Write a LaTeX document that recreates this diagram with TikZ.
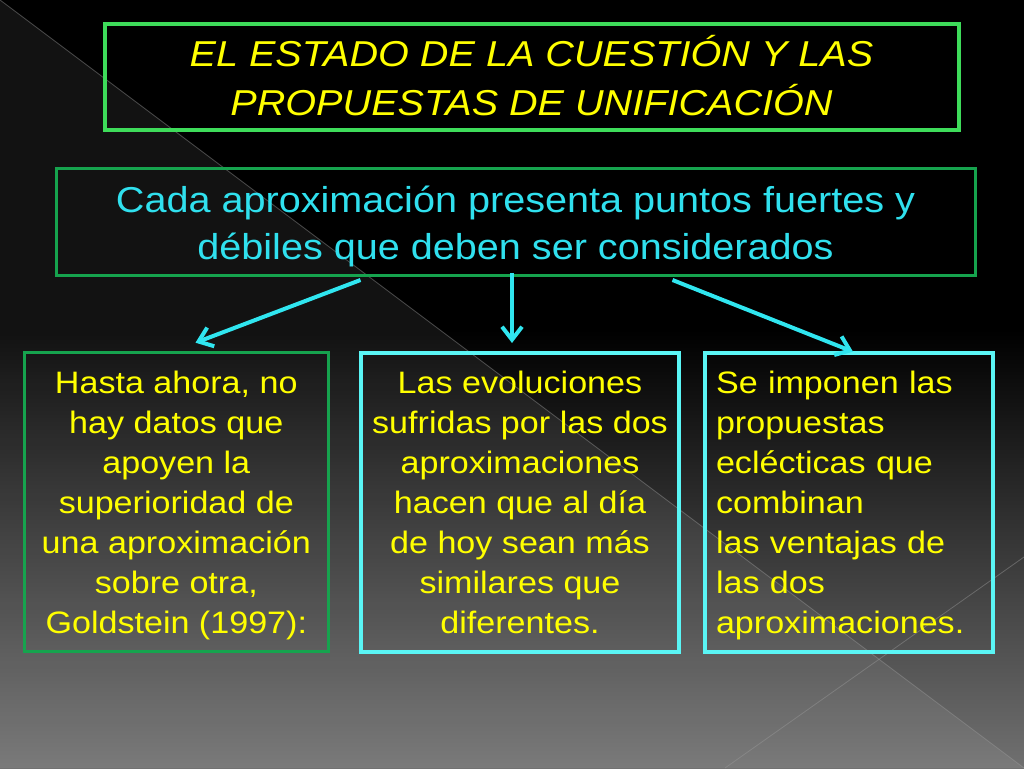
\documentclass[tikz,border=0pt]{standalone}
\usepackage{fontspec}
\setmainfont{Liberation Sans}[FakeStretch=1.1]
\usetikzlibrary{arrows.meta}
\definecolor{ttlgreen}{HTML}{3EDC5A}
\definecolor{dkgreen}{HTML}{16A34E}
\definecolor{boxcyan}{HTML}{5AF5F5}
\definecolor{arrcyan}{HTML}{30E6F0}
\definecolor{txtcyan}{HTML}{30E0EE}
\definecolor{txtyellow}{HTML}{FFFF00}
\definecolor{bgbot}{HTML}{707070}
\definecolor{bgline}{HTML}{9A9A9A}
\begin{document}
\begin{tikzpicture}[x=1pt,y=-1pt,
  box/.style={draw, inner sep=0pt, align=center, text depth=0pt},
  lowbox/.style={box, minimum height=299pt, text=txtyellow,
    font=\fontsize{31}{40}\selectfont, text height=262.2pt},
  conn/.style={draw=arrcyan, line width=4pt,
    -{Straight Barb[length=13pt,width=20pt]}},
  bgdeco/.style={draw=bgline, opacity=0.45, line width=0.8pt}]
\useasboundingbox (0,0) rectangle (1024,768);
% background
\fill[black] (0,0) rectangle (1024,331);
\shade[top color=black, bottom color=bgbot] (0,330) rectangle (1024,768);
\fill[white, opacity=0.07] (0,0) -- (1024,768) -- (0,768) -- cycle;
\draw[bgdeco] (0,0) -- (1024,768);
\draw[bgdeco] (725,768) -- (1024,557);
% boxes
\node[box, draw=ttlgreen, line width=4pt, minimum width=854pt, minimum height=105pt,
  text=txtyellow, font=\fontsize{36}{49}\selectfont\itshape, text height=77.4pt]
  (title) at (531.5,77) {EL ESTADO DE LA CUESTIÓN Y LAS\\PROPUESTAS DE UNIFICACIÓN};
\node[box, draw=dkgreen, line width=3pt, minimum width=919pt, minimum height=107pt,
  text=txtcyan, font=\fontsize{36}{46.6}\selectfont, text height=75.8pt]
  (cada) at (515.5,221.5) {Cada aproximación presenta puntos fuertes y\\débiles que deben ser considerados};
\node[lowbox, draw=dkgreen, line width=3pt, minimum width=304pt]
  (hasta) at (176.3,502.3) {Hasta ahora, no\\hay datos que\\apoyen la\\superioridad de\\una aproximación\\sobre otra,\\Goldstein (1997):};
\node[lowbox, draw=boxcyan, line width=4pt, minimum width=318pt]
  (evol) at (520,502) {Las evoluciones\\sufridas por las dos\\aproximaciones\\hacen que al día\\de hoy sean más\\similares que\\diferentes.};
\node[lowbox, draw=boxcyan, line width=4pt, minimum width=288pt, align=left,
  text width=265.4pt, text height=22.2pt, text depth=240pt]
  (impo) at (848.7,502) {Se imponen las\\propuestas\\eclécticas que\\combinan\\las ventajas de\\las dos\\aproximaciones.};
% connector ends
\coordinate (s1) at (360.5,280);
\coordinate (e1) at (195.5,342.7);
\coordinate (s2) at (512,273);
\coordinate (e2) at (512,343);
\coordinate (s3) at (672.5,280);
\coordinate (e3) at (853,351.7);
\draw[conn] (s1) -- (e1);
\draw[conn] (s2) -- (e2);
\draw[conn] (s3) -- (e3);
\end{tikzpicture}
\end{document}
